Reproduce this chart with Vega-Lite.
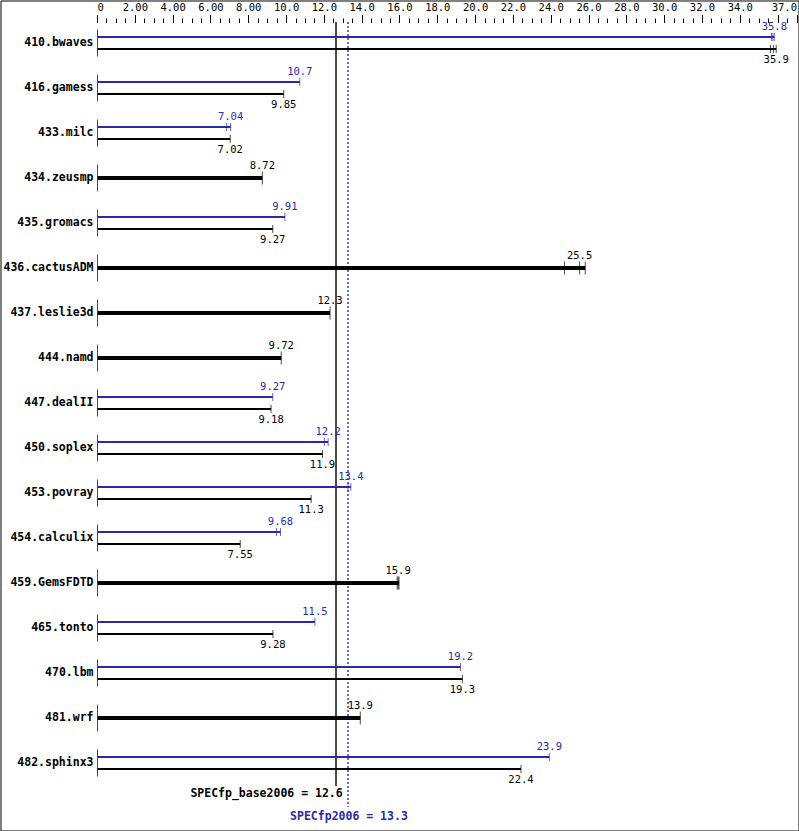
{
  "$schema": "https://vega.github.io/schema/vega-lite/v6.json",
  "width": 798,
  "height": 830,
  "autosize": {"type": "none"},
  "padding": 0.5,
  "background": "white",
  "config": {"view": {"stroke": "black", "strokeWidth": 1}, "font": "DejaVu Sans Mono"},
  "datasets": {
    "bars": [
      {"benchmark": "410.bwaves", "kind": "peak", "value": 35.8},
      {"benchmark": "410.bwaves", "kind": "base", "value": 35.9},
      {"benchmark": "416.gamess", "kind": "peak", "value": 10.7},
      {"benchmark": "416.gamess", "kind": "base", "value": 9.85},
      {"benchmark": "433.milc", "kind": "peak", "value": 7.04},
      {"benchmark": "433.milc", "kind": "base", "value": 7.02},
      {"benchmark": "434.zeusmp", "kind": "both", "value": 8.72},
      {"benchmark": "435.gromacs", "kind": "peak", "value": 9.91},
      {"benchmark": "435.gromacs", "kind": "base", "value": 9.27},
      {"benchmark": "436.cactusADM", "kind": "both", "value": 25.5},
      {"benchmark": "437.leslie3d", "kind": "both", "value": 12.3},
      {"benchmark": "444.namd", "kind": "both", "value": 9.72},
      {"benchmark": "447.dealII", "kind": "peak", "value": 9.27},
      {"benchmark": "447.dealII", "kind": "base", "value": 9.18},
      {"benchmark": "450.soplex", "kind": "peak", "value": 12.2},
      {"benchmark": "450.soplex", "kind": "base", "value": 11.9},
      {"benchmark": "453.povray", "kind": "peak", "value": 13.4},
      {"benchmark": "453.povray", "kind": "base", "value": 11.3},
      {"benchmark": "454.calculix", "kind": "peak", "value": 9.68},
      {"benchmark": "454.calculix", "kind": "base", "value": 7.55},
      {"benchmark": "459.GemsFDTD", "kind": "both", "value": 15.9},
      {"benchmark": "465.tonto", "kind": "peak", "value": 11.5},
      {"benchmark": "465.tonto", "kind": "base", "value": 9.28},
      {"benchmark": "470.lbm", "kind": "peak", "value": 19.2},
      {"benchmark": "470.lbm", "kind": "base", "value": 19.3},
      {"benchmark": "481.wrf", "kind": "both", "value": 13.9},
      {"benchmark": "482.sphinx3", "kind": "peak", "value": 23.9},
      {"benchmark": "482.sphinx3", "kind": "base", "value": 22.4}
    ],
    "runs": [
      {"benchmark": "410.bwaves", "kind": "peak", "value": 35.65},
      {"benchmark": "410.bwaves", "kind": "peak", "value": 35.72},
      {"benchmark": "410.bwaves", "kind": "peak", "value": 35.8},
      {"benchmark": "410.bwaves", "kind": "base", "value": 35.6},
      {"benchmark": "410.bwaves", "kind": "base", "value": 35.75},
      {"benchmark": "410.bwaves", "kind": "base", "value": 35.9},
      {"benchmark": "416.gamess", "kind": "peak", "value": 10.7},
      {"benchmark": "416.gamess", "kind": "base", "value": 9.85},
      {"benchmark": "433.milc", "kind": "peak", "value": 6.83},
      {"benchmark": "433.milc", "kind": "peak", "value": 7.04},
      {"benchmark": "433.milc", "kind": "base", "value": 7.02},
      {"benchmark": "434.zeusmp", "kind": "both", "value": 8.72},
      {"benchmark": "435.gromacs", "kind": "peak", "value": 9.91},
      {"benchmark": "435.gromacs", "kind": "base", "value": 9.27},
      {"benchmark": "436.cactusADM", "kind": "both", "value": 24.7},
      {"benchmark": "436.cactusADM", "kind": "both", "value": 25.5},
      {"benchmark": "436.cactusADM", "kind": "both", "value": 25.8},
      {"benchmark": "437.leslie3d", "kind": "both", "value": 12.3},
      {"benchmark": "444.namd", "kind": "both", "value": 9.72},
      {"benchmark": "447.dealII", "kind": "peak", "value": 9.27},
      {"benchmark": "447.dealII", "kind": "base", "value": 9.18},
      {"benchmark": "450.soplex", "kind": "peak", "value": 12.0},
      {"benchmark": "450.soplex", "kind": "peak", "value": 12.2},
      {"benchmark": "450.soplex", "kind": "base", "value": 11.9},
      {"benchmark": "453.povray", "kind": "peak", "value": 13.25},
      {"benchmark": "453.povray", "kind": "peak", "value": 13.4},
      {"benchmark": "453.povray", "kind": "base", "value": 11.3},
      {"benchmark": "454.calculix", "kind": "peak", "value": 9.47},
      {"benchmark": "454.calculix", "kind": "peak", "value": 9.68},
      {"benchmark": "454.calculix", "kind": "base", "value": 7.55},
      {"benchmark": "459.GemsFDTD", "kind": "both", "value": 15.85},
      {"benchmark": "459.GemsFDTD", "kind": "both", "value": 15.9},
      {"benchmark": "459.GemsFDTD", "kind": "both", "value": 15.95},
      {"benchmark": "465.tonto", "kind": "peak", "value": 11.5},
      {"benchmark": "465.tonto", "kind": "base", "value": 9.28},
      {"benchmark": "470.lbm", "kind": "peak", "value": 19.2},
      {"benchmark": "470.lbm", "kind": "base", "value": 19.3},
      {"benchmark": "481.wrf", "kind": "both", "value": 13.9},
      {"benchmark": "482.sphinx3", "kind": "peak", "value": 23.9},
      {"benchmark": "482.sphinx3", "kind": "base", "value": 22.4}
    ],
    "summary": [
      {"metric": "SPECfp_base2006", "value": 12.6, "label": "SPECfp_base2006 = 12.6"},
      {"metric": "SPECfp2006", "value": 13.3, "label": "SPECfp2006 = 13.3"}
    ]
  },
  "encoding": {
    "x": {
      "field": "value", "type": "quantitative",
      "scale": {"domain": [0, 37], "range": [97, 796.5], "nice": false, "zero": false},
      "axis": {
        "orient": "top", "offset": -22.5, "translate": 0, "domain": false, "grid": false, "title": null,
        "values": [0,0.5,1,1.5,2,2.5,3,3.5,4,4.5,5,5.5,6,6.5,7,7.5,8,8.5,9,9.5,10,10.5,11,11.5,12,12.5,13,13.5,14,14.5,15,15.5,16,16.5,17,17.5,18,18.5,19,19.5,20,20.5,21,21.5,22,22.5,23,23.5,24,24.5,25,25.5,26,26.5,27,27.5,28,28.5,29,29.5,30,30.5,31,31.5,32,32.5,33,33.5,34,34.5,35,35.5,36,36.5,37],
        "tickColor": "black", "tickWidth": 1, "tickSize": 8,
        "tickDash": {"condition": {"test": "datum.value % 2 === 0 || datum.value === 37", "value": [8, 0]}, "value": [4.5, 10]},
        "labelExpr": "datum.value === 0 ? '0' : datum.value === 37 ? '37.0' : (datum.value % 2 === 0 && datum.value <= 34) ? (datum.value < 10 ? format(datum.value, '.2f') : format(datum.value, '.1f')) : ''",
        "labelFont": "DejaVu Sans Mono", "labelFontSize": 10.5, "labelColor": "black",
        "labelPadding": 2, "labelFlush": true, "labelOverlap": false, "labelBound": false
      }
    },
    "y": {
      "field": "benchmark", "type": "nominal",
      "scale": {"type": "band", "domain": ["410.bwaves","416.gamess","433.milc","434.zeusmp","435.gromacs","436.cactusADM","437.leslie3d","444.namd","447.dealII","450.soplex","453.povray","454.calculix","459.GemsFDTD","465.tonto","470.lbm","481.wrf","482.sphinx3"], "range": [20, 785], "paddingInner": 0, "paddingOuter": 0},
      "axis": {
        "orient": "left", "offset": -97, "translate": 0, "title": null, "ticks": false, "grid": false, "domain": false,
        "labelFont": "DejaVu Sans Mono", "labelFontWeight": "bold", "labelFontSize": 11.5, "labelColor": "black",
        "labelPadding": 4, "labelAlign": "right", "labelBaseline": "middle", "labelBound": false, "labelOverlap": false
      }
    }
  },
  "layer": [
    {
      "data": {"name": "summary"},
      "transform": [{"filter": "datum.metric === 'SPECfp_base2006'"}],
      "mark": {"type": "tick", "orient": "vertical", "color": "black", "thickness": 2, "size": 764, "yOffset": 1, "xOffset": 0.3},
      "encoding": {
        "y": {"datum": "447.dealII", "type": "nominal"}
      }
    },
    {
      "data": {"name": "summary"},
      "transform": [{"filter": "datum.metric === 'SPECfp2006'"}],
      "mark": {"type": "tick", "orient": "vertical", "filled": false, "color": "#2a2aa8", "strokeWidth": 2, "strokeDash": [2, 2], "thickness": 0, "size": 785, "yOffset": 11.5, "xOffset": -0.9},
      "encoding": {
        "y": {"datum": "447.dealII", "type": "nominal"}
      }
    },
    {
      "data": {"name": "bars"},
      "transform": [{"filter": "datum.kind !== 'base'"}],
      "mark": {"type": "tick", "orient": "vertical", "thickness": 1, "size": 27, "color": "black"},
      "encoding": {
        "x": {"datum": 0, "type": "quantitative"}
      }
    },
    {
      "data": {"name": "bars"},
      "transform": [{"filter": "datum.kind === 'peak'"}],
      "mark": {"type": "bar", "height": 2, "yOffset": -6, "color": "#2a2aa8"}
    },
    {
      "data": {"name": "bars"},
      "transform": [{"filter": "datum.kind === 'base'"}],
      "mark": {"type": "bar", "height": 2, "yOffset": 6, "color": "black"}
    },
    {
      "data": {"name": "bars"},
      "transform": [{"filter": "datum.kind === 'both'"}],
      "mark": {"type": "bar", "height": 4, "color": "black"}
    },
    {
      "data": {"name": "runs"},
      "transform": [
        {"filter": "datum.kind === 'both'"},
        {"aggregate": [{"op": "min", "field": "value", "as": "lo"}, {"op": "max", "field": "value", "as": "hi"}], "groupby": ["benchmark"]}
      ],
      "mark": {"type": "rule", "color": "black", "strokeWidth": 4},
      "encoding": {
        "x": {"field": "lo", "type": "quantitative"},
        "x2": {"field": "hi"}
      }
    },
    {
      "data": {"name": "runs"},
      "transform": [{"filter": "datum.kind === 'peak'"}],
      "mark": {"type": "tick", "orient": "vertical", "thickness": 1, "size": 8, "yOffset": -6, "color": "#2a2aa8"}
    },
    {
      "data": {"name": "runs"},
      "transform": [{"filter": "datum.kind === 'base'"}],
      "mark": {"type": "tick", "orient": "vertical", "thickness": 1, "size": 8, "yOffset": 6, "color": "black"}
    },
    {
      "data": {"name": "runs"},
      "transform": [{"filter": "datum.kind === 'both'"}],
      "mark": {"type": "tick", "orient": "vertical", "thickness": 1, "size": 13, "color": "black"}
    },
    {
      "data": {"name": "bars"},
      "transform": [{"filter": "datum.kind === 'peak'"}],
      "mark": {"type": "text", "color": "#2a2aa8", "dy": -16.5, "fontSize": 10.5, "font": "DejaVu Sans Mono", "align": "center", "baseline": "middle"},
      "encoding": {"text": {"field": "value", "type": "nominal"}}
    },
    {
      "data": {"name": "bars"},
      "transform": [{"filter": "datum.kind === 'base'"}],
      "mark": {"type": "text", "color": "black", "dy": 17, "fontSize": 10.5, "font": "DejaVu Sans Mono", "align": "center", "baseline": "middle"},
      "encoding": {"text": {"field": "value", "type": "nominal"}}
    },
    {
      "data": {"name": "bars"},
      "transform": [{"filter": "datum.kind === 'both'"}],
      "mark": {"type": "text", "color": "black", "dy": -12, "fontSize": 10.5, "font": "DejaVu Sans Mono", "align": "center", "baseline": "middle"},
      "encoding": {"text": {"field": "value", "type": "nominal"}}
    },
    {
      "data": {"name": "summary"},
      "transform": [{"filter": "datum.metric === 'SPECfp_base2006'"}],
      "mark": {"type": "text", "color": "black", "dx": 7, "dy": 31, "fontSize": 11.5, "fontWeight": "bold", "font": "DejaVu Sans Mono", "align": "right", "baseline": "middle"},
      "encoding": {
        "y": {"datum": "482.sphinx3", "type": "nominal"},
        "text": {"field": "label", "type": "nominal"}
      }
    },
    {
      "data": {"name": "summary"},
      "transform": [{"filter": "datum.metric === 'SPECfp2006'"}],
      "mark": {"type": "text", "color": "#2a2aa8", "dy": 54, "fontSize": 11.5, "fontWeight": "bold", "font": "DejaVu Sans Mono", "align": "center", "baseline": "middle"},
      "encoding": {
        "y": {"datum": "482.sphinx3", "type": "nominal"},
        "text": {"field": "label", "type": "nominal"}
      }
    }
  ]
}
